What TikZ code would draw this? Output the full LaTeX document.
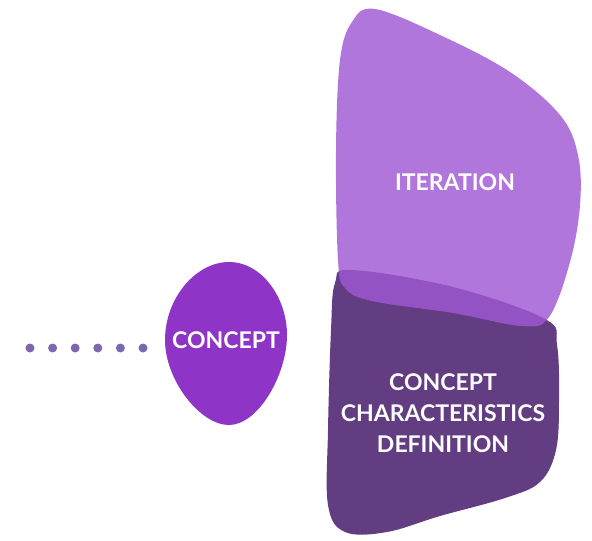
\documentclass[tikz,border=0pt]{standalone}
\usepackage{fontspec}
\setmainfont{Lato}
\usepackage{tikz}
\usetikzlibrary{calc,positioning}
\definecolor{lightpurple}{RGB}{160,88,212}
\definecolor{darkpurple}{RGB}{99,61,130}
\definecolor{conceptpurple}{RGB}{142,53,200}
\definecolor{dotpurple}{RGB}{123,104,174}
\tikzset{
  label/.style={text=white,font=\bfseries\fontsize{11.5}{15.5}\selectfont,align=center},
  dot/.style={circle,fill=dotpurple,inner sep=0pt,minimum size=4.5pt}
}
\begin{document}
\begin{tikzpicture}[x=0.5pt,y=-0.5pt]
\useasboundingbox (0,0) rectangle (592,540);
\fill[darkpurple] plot[smooth cycle,tension=0.6] coordinates {(352,270) (453,287) (545,319) (557,345) (559,400) (556,450) (540,482) (505,498) (440,516) (387,532) (345,532) (328,505) (328,430) (331,330) (335,283)};
\fill[lightpurple,opacity=0.82] plot[smooth cycle,tension=0.6] coordinates {(375,9) (440,35) (510,72) (560,115) (578,155) (580,205) (570,262) (549,317) (522,326) (453,313) (372,301) (345,288) (338,260) (336,150) (340,60) (352,22)};
\fill[conceptpurple] (229,262) .. controls (262,262) and (287,298) .. (287,335)
  .. controls (287,375) and (258,425) .. (229,425)
  .. controls (200,425) and (165,380) .. (165,340)
  .. controls (165,298) and (196,262) .. cycle;
\node[label] (concept) at (226,340) {CONCEPT};
\node[label] (iteration) at (455,182) {ITERATION};
\node[label] (definition) at (443,413) {CONCEPT\\CHARACTERISTICS\\DEFINITION};
\foreach \Nodo in {0,...,5}
 \node[dot] (d\Nodo) at ({30+22.6*\Nodo},348) {};
\end{tikzpicture}
\end{document}
